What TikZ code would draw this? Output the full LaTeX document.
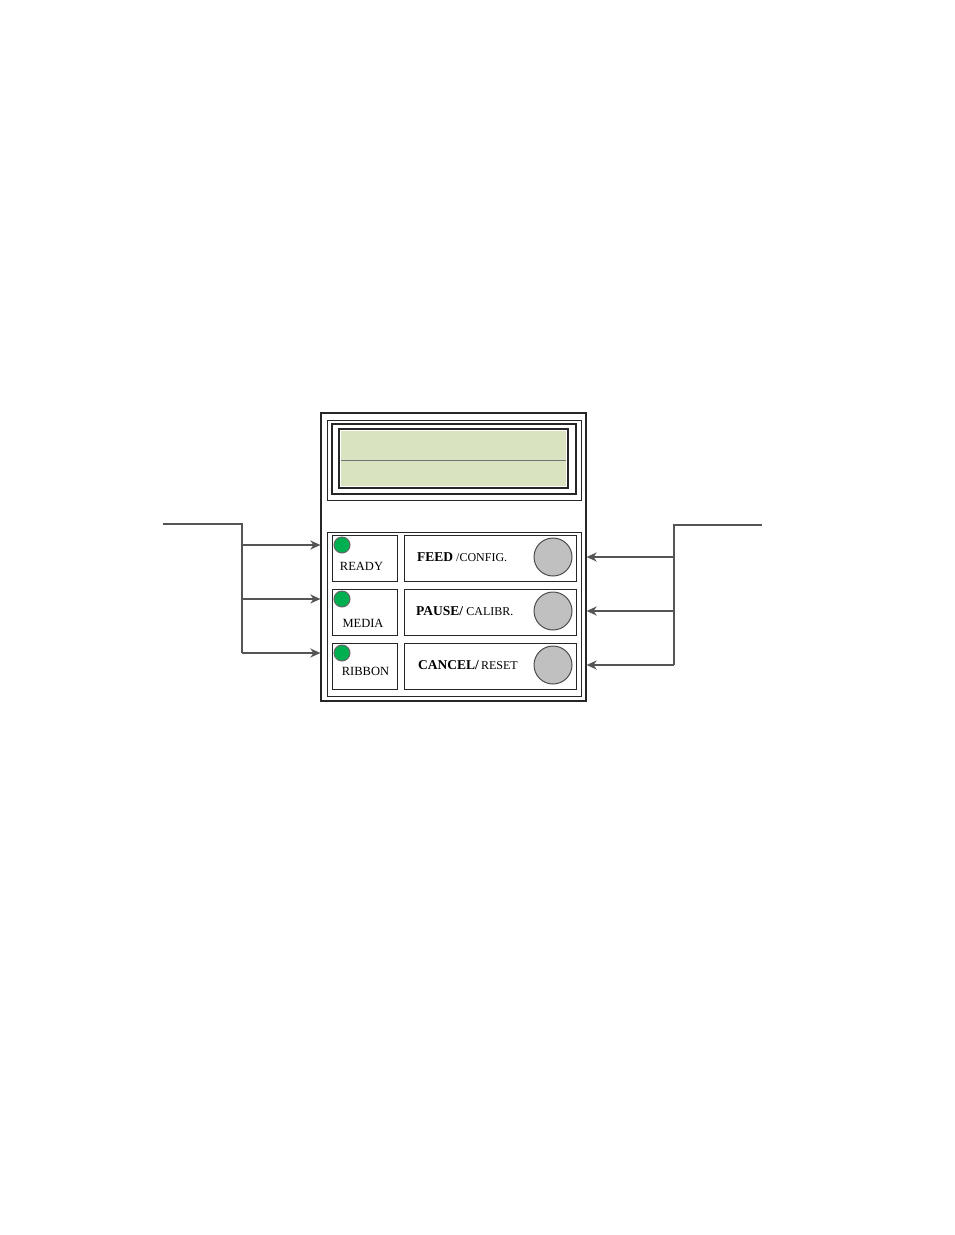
\documentclass[tikz,border=0pt]{standalone}
\usepackage{fontspec}
\setmainfont{Liberation Serif}
\usetikzlibrary{arrows.meta}
\definecolor{lcdgreen}{RGB}{217,227,191}
\definecolor{ledgreen}{RGB}{0,176,80}
\definecolor{knobgray}{RGB}{192,192,192}
\definecolor{wiregray}{RGB}{85,85,85}
\begin{document}
\begin{tikzpicture}[x=1pt,y=-1pt,
	    frame/.style={draw=black!85,line width=1.2pt},
	    led/.style={circle,draw=black!60,fill=ledgreen,line width=1pt,minimum size=16pt,inner sep=0pt},
	    knob/.style={circle,draw=black!70,fill=knobgray,line width=1pt,minimum size=38pt,inner sep=0pt},
	    wire/.style={draw=wiregray,line width=1.8pt},
	    tip/.style={-{Stealth[length=10pt,width=9pt,inset=3pt]}},
	    lbl/.style={anchor=base,inner sep=0pt,font=\fontsize{12.5}{14}\selectfont},
	    key/.style={anchor=base west,inner sep=0pt,font=\fontsize{12}{14}\selectfont}]
	    \useasboundingbox (0,0) rectangle (954,1235);
	    % housing
	    \node[frame,minimum width=265pt,minimum height=288pt,inner sep=0pt] (housing) at (453.5,557) {};
	    % display
	    \draw[frame,line width=1pt](327,420) rectangle (581,500);
	    \draw[frame](332,424) rectangle (576,494);
	    \draw[frame](339,429) rectangle (568,488);
	    \fill[lcdgreen](341,431) rectangle (566,486);
	    \draw[black!55,line width=1pt](341,460) -- (566,460);
	    % key panel
	    \draw[frame,line width=1pt](327,532) rectangle (581,696);
	    \foreach \top [count=\i] in {535,589,643}{
	        \draw[frame,line width=1pt](332,\top) rectangle (397,\top+46);
	        \draw[frame,line width=1pt](404,\top) rectangle (576,\top+46);
	        \node[led] (led\i) at (342,\top+10) {};
	        \node[knob] (knob\i) at (553,\top+22) {};
	    }
	    \node[lbl] (ready) at (361.5,570) {READY};
	    \node[lbl] (media) at (363,627) {MEDIA};
	    \node[lbl] (ribbon) at (365.5,675) {RIBBON};
	    \node[key] (feed) at (417,561) {\textbf{\fontsize{13.5}{14}\selectfont FEED} /CONFIG.};
	    \node[key] (pause) at (416,615) {\textbf{\fontsize{13.5}{14}\selectfont PAUSE/} CALIBR.};
	    \node[key] (cancel) at (418,669) {\textbf{\fontsize{13.5}{14}\selectfont CANCEL/}\,RESET};
	    % connectors
	    \coordinate (lend) at (163,524);
	    \coordinate (ljoin) at (242,524);
	    \coordinate (rend) at (762,525);
	    \coordinate (rjoin) at (674,525);
	    \draw[wire](lend) -- (ljoin) -- (ljoin |- led3);
	    \draw[wire](rend) -- (rjoin) -- (rjoin |- knob3);
	    \foreach \i in {1,2,3}{
	        \draw[wire,tip](ljoin |- led\i) -- (housing.west |- led\i);
	        \draw[wire,tip](rjoin |- knob\i) -- (housing.east |- knob\i);
	    }
	\end{tikzpicture}
\end{document}
